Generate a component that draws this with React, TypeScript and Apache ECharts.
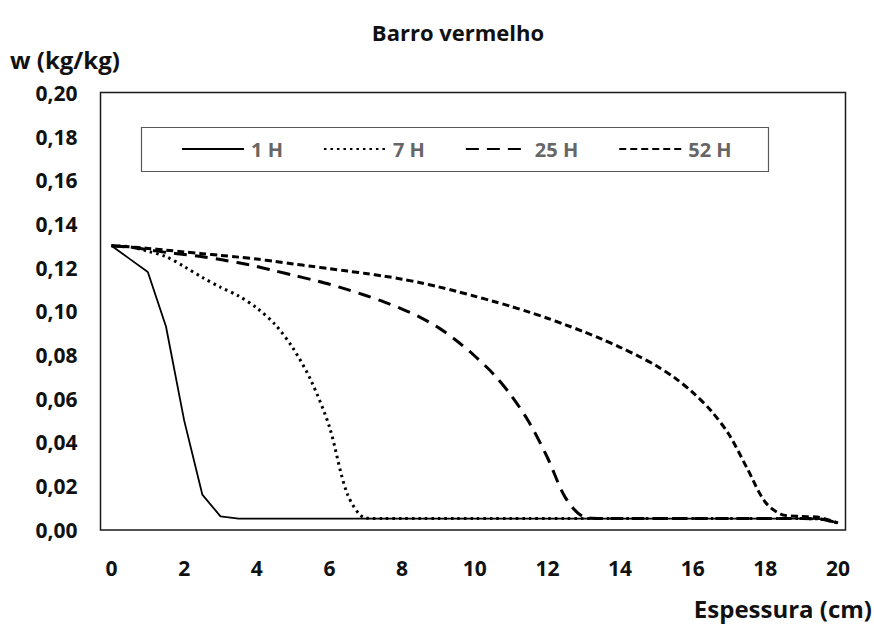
import React, { useEffect, useRef } from "react";
import * as echarts from "echarts";

const espessura = [0, 0.5, 1, 1.5, 2, 2.5, 3, 3.5, 4, 4.5, 5, 5.5, 6, 6.5, 7, 7.5, 8, 8.5, 9, 9.5, 10, 10.5, 11, 11.5, 12, 12.5, 13, 13.5, 14, 14.5, 15, 15.5, 16, 16.5, 17, 17.5, 18, 18.5, 19, 19.5, 20];

const w1H = [0.13, 0.124, 0.118, 0.093, 0.05, 0.016, 0.006, 0.005,
  0.005, 0.005, 0.005, 0.005, 0.005, 0.005, 0.005, 0.005, 0.005, 0.005, 0.005, 0.005, 0.005, 0.005, 0.005, 0.005, 0.005, 0.005, 0.005, 0.005, 0.005, 0.005, 0.005, 0.005, 0.005, 0.005, 0.005, 0.005, 0.005, 0.005, 0.005,
  0.0048, 0.003];

const w7H = [0.13, 0.1295, 0.1275, 0.125, 0.1205, 0.1155, 0.111, 0.107, 0.1015, 0.094, 0.083, 0.068, 0.047, 0.016, 0.0052,
  0.005, 0.005, 0.005, 0.005, 0.005, 0.005, 0.005, 0.005, 0.005, 0.005, 0.005, 0.005, 0.005, 0.005, 0.005, 0.005, 0.005, 0.005, 0.005, 0.005, 0.005, 0.005, 0.005, 0.005,
  0.0048, 0.003];

const w25H = [0.13, 0.1293, 0.1282, 0.127, 0.126, 0.125, 0.1237, 0.1222, 0.1205, 0.1185, 0.1165, 0.1145, 0.1124, 0.1099, 0.1072, 0.1043, 0.101, 0.0972, 0.0925, 0.0865, 0.0795, 0.0715, 0.0615, 0.049, 0.033, 0.0145, 0.0058,
  0.005, 0.005, 0.005, 0.005, 0.005, 0.005, 0.005, 0.005, 0.005, 0.005, 0.005, 0.005,
  0.0048, 0.003];

const w52H = [0.13, 0.1295, 0.1288, 0.128, 0.1272, 0.1264, 0.1256, 0.1248, 0.1239, 0.1228, 0.1217, 0.1206, 0.1195, 0.1184, 0.1173, 0.1161, 0.1147, 0.1131, 0.1112, 0.1091, 0.1069, 0.1046, 0.1022, 0.0996, 0.0968, 0.0938, 0.0906, 0.0872, 0.0835, 0.0795, 0.075, 0.0696, 0.0628, 0.0545, 0.0435, 0.028, 0.0125, 0.0066,
  0.006, 0.0055, 0.003];

const seriesNames = ["1 H", "7 H", "25 H", "52 H"];
const xTicks = { min: 0, max: 20, interval: 2 };
const yTicks = { min: 0, max: 0.2, interval: 0.02 };

const FONT = "'Open Sans', 'Noto Sans', sans-serif";

export default function App() {
  const ref = useRef<HTMLDivElement>(null);
  useEffect(() => {
    if (!ref.current) return;
    const chart = echarts.init(ref.current, undefined, { renderer: "svg" });
    const pairs = (ys: number[]) => espessura.map((x, i) => [x, ys[i]]);
    const styles: any[] = [
      { color: "#000", width: 1.8, type: "solid" },
      { color: "#000", width: 3, type: [2.5, 4] },
      { color: "#000", width: 3, type: [13, 8] },
      { color: "#000", width: 3, type: [7, 4] },
    ];
    const datas = [w1H, w7H, w25H, w52H];
    chart.setOption({
      animation: false,
      backgroundColor: "#fff",
      grid: { left: 111.5, right: 36, top: 93, bottom: 98.5 },
      xAxis: {
        type: "value",
        min: xTicks.min,
        max: xTicks.max,
        interval: xTicks.interval,
        axisLine: { show: false },
        axisTick: { show: false },
        splitLine: { show: false },
        axisLabel: { fontSize: 21, fontWeight: "bold", color: "#111", fontFamily: FONT, margin: 28 },
      },
      yAxis: {
        type: "value",
        min: yTicks.min,
        max: yTicks.max,
        interval: yTicks.interval,
        axisLine: { show: false },
        axisTick: { show: false },
        splitLine: { show: false },
        axisLabel: {
          fontSize: 21,
          fontWeight: "bold",
          color: "#111",
          fontFamily: FONT,
          margin: 34,
          formatter: (v: number) => v.toFixed(2).replace(".", ","),
        },
      },
      legend: {
        left: 181,
        top: 139,
        padding: 0,
        z: 10,
        itemWidth: 62,
        itemHeight: 14,
        itemGap: 40,
        data: seriesNames,
        itemStyle: { opacity: 0 },
        textStyle: { fontSize: 20, fontWeight: "bold", color: "#666", fontFamily: FONT, padding: [0, 0, 0, 2] },
      },
      graphic: [
        {
          type: "rect",
          shape: { x: 100.5, y: 92.5, width: 745, height: 437.5 },
          style: { fill: "none", stroke: "#1a1a1a", lineWidth: 1.5 },
          z: 0,
        },
        {
          type: "rect",
          shape: { x: 141.5, y: 127.5, width: 627, height: 44 },
          style: { fill: "none", stroke: "#595959", lineWidth: 1.2 },
          z: 0,
        },
        {
          type: "text",
          x: 458,
          y: 32,
          style: { text: "Barro vermelho", fontSize: 22, fontWeight: "bold", fill: "#111", fontFamily: FONT, align: "center", verticalAlign: "middle" },
        },
        {
          type: "text",
          x: 10,
          y: 59,
          style: { text: "w (kg/kg)", fontSize: 24, fontWeight: "bold", fill: "#111", fontFamily: FONT, align: "left", verticalAlign: "middle" },
        },
        {
          type: "text",
          x: 872,
          y: 608,
          style: { text: "Espessura (cm)", fontSize: 24, fontWeight: "bold", fill: "#111", fontFamily: FONT, align: "right", verticalAlign: "middle" },
        },
      ],
      series: datas.map((d, i) => ({
        name: seriesNames[i],
        type: "line",
        data: pairs(d),
        showSymbol: false,
        symbol: "none",
        smooth: i === 0 ? false : 0.3,
        lineStyle: styles[i],
        itemStyle: { color: "#000" },
        z: 3,
      })),
    });
    return () => chart.dispose();
  }, []);
  return <div ref={ref} style={{ position: "fixed", left: 0, top: 0, width: 874, height: 628 }} />;
}
